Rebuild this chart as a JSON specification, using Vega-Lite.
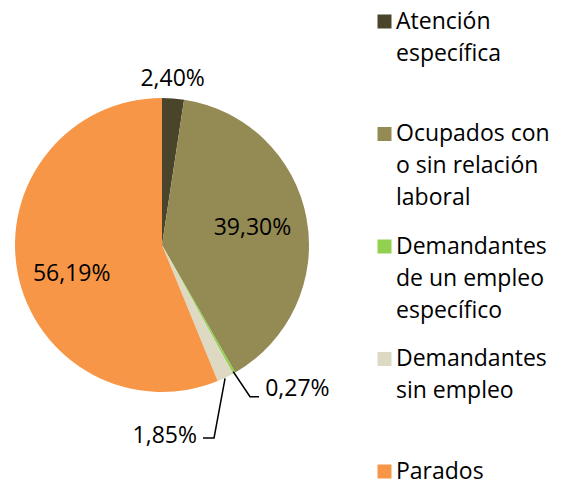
{
  "$schema": "https://vega.github.io/schema/vega-lite/v6.json",
  "width": 324,
  "height": 480,
  "padding": {"left": 0, "top": 5, "right": 0, "bottom": 0},
  "background": "white",
  "config": {
    "view": {"stroke": null},
    "locale": {"number": {"decimal": ",", "thousands": ".", "grouping": [3], "currency": ["", " €"]}},
    "text": {"font": "Open Sans", "fontSize": 23, "color": "#000000"},
    "style": {"guide-label": {"lineHeight": 32}}
  },
  "layer": [
    {
      "data": {"values": [
        {"orden": 1, "categoria": "Atención específica", "valor": 0.0240},
        {"orden": 2, "categoria": "Ocupados con o sin relación laboral", "valor": 0.3930},
        {"orden": 3, "categoria": "Demandantes de un empleo específico", "valor": 0.0027},
        {"orden": 4, "categoria": "Demandantes sin empleo", "valor": 0.0185},
        {"orden": 5, "categoria": "Parados", "valor": 0.5619}
      ]},
      "layer": [
        {
          "mark": {"type": "arc", "outerRadius": 147, "stroke": null},
          "encoding": {
            "theta": {"field": "valor", "type": "quantitative", "stack": true},
            "order": {"field": "orden", "type": "quantitative"},
            "color": {
              "field": "categoria",
              "type": "nominal",
              "scale": {
                "domain": ["Atención específica", "Ocupados con o sin relación laboral", "Demandantes de un empleo específico", "Demandantes sin empleo", "Parados"],
                "range": ["#4A442A", "#948A54", "#92D050", "#DDD9C3", "#F79646"]
              },
              "legend": {
                "orient": "none",
                "legendX": 373,
                "legendY": 5,
                "padding": 0,
                "title": null,
                "symbolType": "square",
                "symbolSize": 196,
                "symbolStrokeWidth": 0,
                "labelFont": "Open Sans",
                "labelFontSize": 23,
                "labelColor": "#000000",
                "labelOffset": 0,
                "labelLimit": 400,
                "rowPadding": 24.5,
                "labelExpr": "datum.label == 'Atención específica' ? ['Atención','específica',''] : datum.label == 'Ocupados con o sin relación laboral' ? ['Ocupados con','o sin relación','laboral'] : datum.label == 'Demandantes de un empleo específico' ? ['Demandantes','de un empleo','específico'] : datum.label == 'Demandantes sin empleo' ? ['Demandantes','sin empleo',''] : [datum.label,'','']"
              }
            }
          }
        },
        {
          "transform": [
            {"window": [{"op": "sum", "field": "valor", "as": "acum"}], "sort": [{"field": "orden"}], "frame": [null, 0]},
            {"calculate": "datum.acum - datum.valor / 2", "as": "medio"},
            {"filter": "datum.orden == 2"}
          ],
          "mark": {"type": "text", "radius": 92},
          "encoding": {
            "theta": {"field": "medio", "type": "quantitative", "stack": null},
            "text": {"field": "valor", "type": "quantitative", "format": ".2%"}
          }
        },
        {
          "transform": [
            {"window": [{"op": "sum", "field": "valor", "as": "acum"}], "sort": [{"field": "orden"}], "frame": [null, 0]},
            {"calculate": "datum.acum - datum.valor / 2", "as": "medio"},
            {"filter": "datum.orden == 5"}
          ],
          "mark": {"type": "text", "radius": 92, "dy": 11},
          "encoding": {
            "theta": {"field": "medio", "type": "quantitative", "stack": null},
            "text": {"field": "valor", "type": "quantitative", "format": ".2%"}
          }
        },
        {
          "transform": [
            {"window": [{"op": "sum", "field": "valor", "as": "acum"}], "sort": [{"field": "orden"}], "frame": [null, 0]},
            {"calculate": "datum.acum - datum.valor / 2", "as": "medio"},
            {"filter": "datum.orden == 1"}
          ],
          "mark": {"type": "text", "radius": 167, "dx": -2, "dy": 1},
          "encoding": {
            "theta": {"field": "medio", "type": "quantitative", "stack": null},
            "text": {"field": "valor", "type": "quantitative", "format": ".2%"}
          }
        },
        {
          "transform": [
            {"window": [{"op": "sum", "field": "valor", "as": "acum"}], "sort": [{"field": "orden"}], "frame": [null, 0]},
            {"calculate": "datum.acum - datum.valor / 2", "as": "medio"},
            {"filter": "datum.orden == 3"}
          ],
          "mark": {"type": "text", "radius": 147, "dx": 31, "dy": 16, "align": "left"},
          "encoding": {
            "theta": {"field": "medio", "type": "quantitative", "stack": null},
            "text": {"field": "valor", "type": "quantitative", "format": ".2%"}
          }
        },
        {
          "transform": [
            {"window": [{"op": "sum", "field": "valor", "as": "acum"}], "sort": [{"field": "orden"}], "frame": [null, 0]},
            {"calculate": "datum.acum - datum.valor / 2", "as": "medio"},
            {"filter": "datum.orden == 4"}
          ],
          "mark": {"type": "text", "radius": 147, "dx": -28.5, "dy": 58, "align": "right"},
          "encoding": {
            "theta": {"field": "medio", "type": "quantitative", "stack": null},
            "text": {"field": "valor", "type": "quantitative", "format": ".2%"}
          }
        }
      ]
    },
    {
      "data": {"values": [
        {"grupo": "0,27%", "punto": 1, "px": 0.485, "py": -0.862},
        {"grupo": "0,27%", "punto": 2, "px": 0.599, "py": -1.032},
        {"grupo": "0,27%", "punto": 3, "px": 0.660, "py": -1.032},
        {"grupo": "1,85%", "punto": 1, "px": 0.429, "py": -0.907},
        {"grupo": "1,85%", "punto": 2, "px": 0.354, "py": -1.313},
        {"grupo": "1,85%", "punto": 3, "px": 0.279, "py": -1.313}
      ]},
      "mark": {"type": "line", "color": "#000000", "strokeWidth": 1.5},
      "encoding": {
        "x": {"field": "px", "type": "quantitative", "scale": {"domain": [-1.10204, 1.10204], "nice": false, "zero": false}, "axis": null},
        "y": {"field": "py", "type": "quantitative", "scale": {"domain": [-1.63265, 1.63265], "nice": false, "zero": false}, "axis": null},
        "detail": {"field": "grupo", "type": "nominal"},
        "order": {"field": "punto", "type": "quantitative"}
      }
    }
  ]
}
